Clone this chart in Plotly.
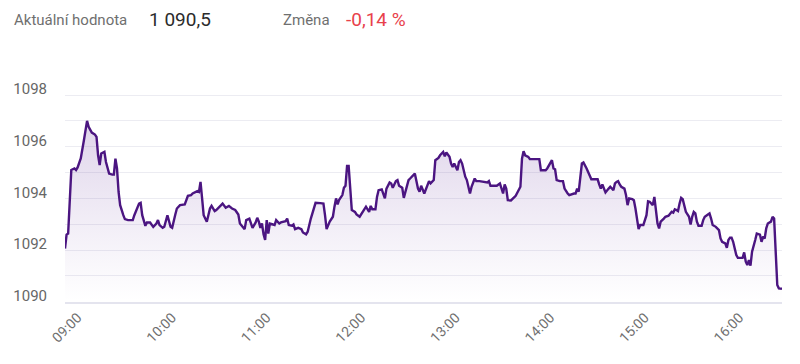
import pandas as pd
import plotly.graph_objects as go

# ---- data ----
SESSION_START = "2024-01-01 08:45"
MINUTES = [0, 1, 2, 3, 4, 6, 7, 8, 10, 12, 14, 15, 17, 19, 20, 21, 22, 23, 25, 26,
           28, 30, 31, 32, 33, 34, 35, 37, 38, 40, 43, 44, 47, 48, 49, 51, 52, 54, 56, 58,
           59, 60, 62, 63, 65, 67, 68, 70, 71, 73, 76, 78, 80, 81, 84, 85,
           86, 87, 88, 90, 92, 93, 95, 96, 98, 100, 102, 103, 104, 106, 108, 110, 111, 114, 115, 117,
           118, 119, 121, 122, 123, 124, 125, 126, 127, 128, 129, 130, 132, 133, 134, 136, 137, 140, 141, 142,
           144, 145, 146, 148, 150, 151, 153, 154, 156, 158, 159, 162, 164, 165, 166, 168, 169, 170, 171, 172, 173,
           174, 176, 177, 178, 179, 180, 181, 182, 184, 185, 187, 188, 190, 191, 193, 194, 195, 197, 198, 199,
           201, 203, 204, 206, 207, 208, 210, 211, 212, 214, 215, 216, 218, 219, 220, 222, 223, 224, 225, 226,
           228, 229, 231, 232, 234, 235, 237, 238, 240, 241, 242, 244, 245, 246, 247, 249, 250, 251, 252, 254,
           255, 257, 258, 260, 261,
           263, 265, 268, 269, 270, 272, 274, 276, 277, 278, 279, 280, 281, 283, 286, 288, 289, 290, 291, 292,
           294, 295, 298, 301, 302, 304, 305, 306, 308, 309, 310, 311, 312, 314, 316, 317, 319, 320, 323, 324,
           325, 326, 328, 329, 331, 333, 334, 336, 338, 339, 340, 341, 342, 343, 345, 346, 348, 349, 350, 351,
           352, 353, 355, 356, 357, 358, 360, 361, 362, 363, 364, 365, 366, 367, 369, 370, 371, 372, 373, 374,
           375, 376, 377, 378, 380, 381, 383, 384, 385, 386, 387, 388, 389, 390, 391, 392, 393, 394, 396, 397,
           398, 399, 400, 401, 402, 404, 405, 406, 408, 409, 410, 411, 413, 415, 416, 417, 419, 420, 421, 422,
           423, 424, 425, 426, 427, 429, 430, 431, 432, 433, 434, 435, 436, 438, 439, 441, 442, 443, 444, 445,
           446, 448, 449, 450, 451, 452, 453, 455]
VALUES = [1092.06, 1092.60, 1092.64, 1094.25, 1095.10, 1095.16, 1095.10, 1095.20, 1095.55, 1096.25,
          1097.00, 1096.77, 1096.55, 1096.47, 1096.38, 1095.67, 1095.29, 1095.74, 1095.80, 1095.41,
          1094.96, 1094.92, 1094.92, 1095.54, 1095.16, 1094.25, 1093.74, 1093.35, 1093.20, 1093.16,
          1093.16, 1093.35, 1093.80, 1093.83, 1093.35, 1092.94, 1093.07, 1093.07, 1092.90, 1093.03,
          1093.16, 1092.97, 1092.86, 1092.90, 1093.35, 1092.90, 1092.86, 1093.38, 1093.61, 1093.74,
          1093.77, 1094.10, 1094.13, 1094.19, 1094.28, 1094.25,
          1094.64, 1094.00, 1093.35, 1093.10, 1093.61, 1093.71, 1093.51, 1093.55, 1093.68, 1093.80,
          1093.64, 1093.68, 1093.71, 1093.61, 1093.55, 1093.38, 1093.03, 1092.81, 1093.16, 1093.22,
          1093.03, 1092.86, 1093.07, 1093.25, 1093.10, 1092.86, 1093.03, 1092.61, 1092.39, 1093.16,
          1092.64, 1093.03, 1092.99, 1092.97, 1093.16, 1093.03, 1093.07, 1093.12, 1093.22, 1092.97,
          1092.94, 1092.99, 1092.81, 1092.86, 1092.81, 1092.68, 1092.61, 1092.71, 1093.22, 1093.68,
          1093.83, 1093.82, 1093.80, 1093.35, 1092.81, 1093.10, 1093.22, 1093.29, 1093.68, 1094.00, 1093.77,
          1093.95, 1094.13, 1094.41, 1094.49, 1095.26, 1095.26, 1094.51, 1093.55, 1093.48, 1093.38,
          1093.29, 1093.38, 1093.55, 1093.68, 1093.48, 1093.71, 1093.58, 1093.58, 1094.06, 1094.32,
          1094.35, 1094.00, 1094.38, 1094.62, 1094.58, 1094.41, 1094.67, 1094.71, 1094.49, 1094.41,
          1094.02, 1094.26, 1094.71, 1094.77, 1094.84, 1094.96, 1094.67, 1094.38, 1094.26, 1094.49,
          1094.19, 1094.38, 1094.67, 1094.58, 1094.71, 1095.48, 1095.57, 1095.67, 1095.80, 1095.63,
          1095.78, 1095.61, 1095.35, 1095.22, 1095.35, 1095.09, 1095.41, 1095.48, 1095.35, 1094.84,
          1094.71, 1094.19, 1094.45, 1094.77, 1094.67,
          1094.67, 1094.64, 1094.62, 1094.67, 1094.49, 1094.49, 1094.49, 1094.58, 1094.38, 1094.19,
          1094.54, 1094.38, 1093.93, 1093.92, 1094.10, 1094.32, 1094.45, 1095.54, 1095.83, 1095.67,
          1095.61, 1095.52, 1095.52, 1095.52, 1095.09, 1095.09, 1095.09, 1095.16, 1095.41, 1095.48,
          1095.16, 1095.13, 1094.71, 1094.67, 1094.67, 1094.38, 1094.19, 1094.13, 1094.19, 1094.19,
          1094.38, 1094.26, 1095.35, 1095.39, 1095.16, 1094.84, 1094.74, 1094.74, 1094.74, 1094.54,
          1094.38, 1094.54, 1094.38, 1094.23, 1094.38, 1094.45, 1094.32, 1094.58, 1094.64, 1094.67,
          1094.54, 1094.45, 1094.38, 1094.13, 1093.74, 1094.00, 1093.97, 1093.93, 1093.61, 1093.10,
          1092.81, 1092.97, 1092.97, 1092.97, 1093.35, 1093.89, 1093.87, 1093.80, 1093.74, 1094.06,
          1093.48, 1093.03, 1092.84, 1093.10, 1093.22, 1093.29, 1093.33, 1093.42, 1093.48, 1093.45,
          1093.58, 1093.55, 1093.51, 1093.80, 1094.02, 1093.97, 1093.74, 1093.48, 1093.29, 1092.99,
          1093.29, 1093.48, 1093.42, 1093.10, 1092.94, 1092.94, 1093.16, 1093.29, 1093.38, 1093.42,
          1093.22, 1092.97, 1092.90, 1092.77, 1092.45, 1092.32, 1092.26, 1092.09, 1092.39, 1092.48,
          1092.48, 1092.32, 1092.06, 1091.81, 1091.70, 1091.70, 1091.70, 1091.91, 1091.55, 1091.42,
          1091.61, 1091.40, 1091.94, 1092.39, 1092.64, 1092.60, 1092.32, 1092.52, 1092.45, 1092.84,
          1093.03, 1093.10, 1093.29, 1093.22, 1091.55, 1090.65, 1090.52, 1090.50]

X_TICK_TIMES = ["09:00", "10:00", "11:00", "12:00", "13:00", "14:00", "15:00", "16:00"]
Y_TICKS = [1090, 1092, 1094, 1096, 1098]
Y_RANGE = [1089.99, 1099.01]
SESSION_END_MIN = 455

HEADER_LABEL_1 = "Aktuální hodnota"
HEADER_VALUE_1 = "1 090,5"
HEADER_LABEL_2 = "Změna"
HEADER_VALUE_2 = "-0,14 %"

# ---- build ----
start = pd.Timestamp(SESSION_START)
times = [start + pd.Timedelta(minutes=m) for m in MINUTES]
day = start.strftime("%Y-%m-%d")
tickvals = [pd.Timestamp(f"{day} {t}") for t in X_TICK_TIMES]

# the page body has the browser's default 8px margin: compensate so the
# chart lands where the reference draws it inside the 800x364 window
BODY = 8
W, H = 800 - BODY, 364 - BODY
ML, MR, MT, MB = 65 - BODY, 18, 69 - BODY, 62
PW, PH = W - ML - MR, H - MT - MB

fig = go.Figure()
fig.add_trace(go.Scatter(
    x=times, y=VALUES, mode="lines",
    line=dict(color="#4b1581", width=2.4),
    fill="tozeroy",
    fillgradient=dict(type="vertical", start=1090, stop=1097,
                      colorscale=[[0, "rgba(120,80,170,0.0)"], [1, "rgba(110,60,160,0.22)"]]),
    hoverinfo="skip", showlegend=False,
))

grid_col = "#ececf2"
fig.update_layout(
    width=W, height=H,
    margin=dict(l=ML, r=MR, t=MT, b=MB, autoexpand=False),
    paper_bgcolor="white", plot_bgcolor="white",
    font=dict(family="Roboto, Arial, sans-serif", color="#666"),
    xaxis=dict(
        type="date", automargin=False,
        range=[start, start + pd.Timedelta(minutes=SESSION_END_MIN)],
        tickmode="array", tickvals=tickvals, ticktext=X_TICK_TIMES,
        tickangle=-45, tickfont=dict(size=14, color="#707070"),
        showgrid=False, zeroline=False,
        showline=True, linecolor="#e4e4ee", linewidth=2,
        ticks="", ticklabelstandoff=0, ticklabelshift=-11,
    ),
    yaxis=dict(
        range=Y_RANGE, automargin=False,
        tickmode="array", tickvals=Y_TICKS,
        tickfont=dict(size=15, color="#666"),
        showgrid=True, gridcolor=grid_col, gridwidth=1,
        minor=dict(dtick=1, tick0=1090, showgrid=True, gridcolor=grid_col, gridwidth=1),
        zeroline=False, showline=False, ticks="",
        ticklabelshift=-6, ticklabelstandoff=17,
    ),
)

def px_to_paper_x(px):
    return (px - BODY - ML) / PW

def py_to_paper_y(py):
    return (H - MB - (py - BODY)) / PH

header = [
    (12, HEADER_LABEL_1, 15, "#6f6f6f"),
    (147, HEADER_VALUE_1, 19, "#2b2b2b"),
    (281, HEADER_LABEL_2, 15, "#6f6f6f"),
    (344, HEADER_VALUE_2, 19, "#e8414b"),
]
for px, txt, sz, col in header:
    fig.add_annotation(
        x=px_to_paper_x(px), y=py_to_paper_y(20), xref="paper", yref="paper",
        text=txt, showarrow=False, xanchor="left", yanchor="middle",
        font=dict(size=sz, color=col, family="Roboto, Arial, sans-serif"),
    )

fig.write_html("out.html")
